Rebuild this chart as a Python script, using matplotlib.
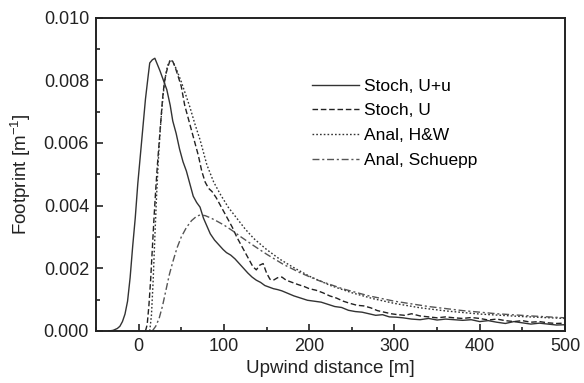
import numpy as np
import matplotlib.pyplot as plt
from matplotlib.ticker import MultipleLocator, FormatStrFormatter

plt.rcParams['font.family'] = ['Liberation Sans', 'DejaVu Sans']
plt.rcParams['mathtext.fontset'] = 'custom'
plt.rcParams['mathtext.rm'] = 'Liberation Sans'
plt.rcParams['mathtext.default'] = 'rm'

# Stoch, U+u (solid)
x_uu = [-35, -30, -25, -22, -19, -16, -13, -10, -7, -4, -1, 2, 5, 8, 11, 13, 16, 19, 22, 25,
        29, 33, 37, 40, 44, 48, 52, 56, 60, 64, 68, 72, 76, 80, 84, 89, 94, 99, 103, 108,
        113, 118, 123, 128, 133, 138, 143, 148, 153, 158, 163, 168, 175, 182, 190, 198, 206, 214, 222, 230,
        238, 246, 254, 262, 270, 278, 286, 294, 302, 310, 320, 330, 340, 350, 360, 370, 380, 390, 400, 410,
        420, 430, 440, 450, 460, 470, 480, 490, 500]
y_uu = [0.0, 0.02, 0.08, 0.15, 0.3, 0.54, 0.95, 1.7, 2.7, 3.6, 4.7, 5.6, 6.5, 7.4, 8.1, 8.55, 8.65, 8.7, 8.5, 8.3,
        8.0, 7.7, 7.2, 6.7, 6.3, 5.8, 5.4, 5.1, 4.7, 4.3, 4.1, 3.95, 3.6, 3.35, 3.1, 2.9, 2.75, 2.6, 2.5, 2.42,
        2.3, 2.15, 2.0, 1.85, 1.72, 1.62, 1.55, 1.45, 1.4, 1.35, 1.32, 1.28, 1.2, 1.12, 1.05, 0.98, 0.95, 0.92, 0.85, 0.78,
        0.75, 0.66, 0.62, 0.6, 0.55, 0.5, 0.52, 0.45, 0.44, 0.42, 0.38, 0.36, 0.40, 0.35, 0.38, 0.36, 0.34, 0.36, 0.30, 0.33,
        0.28, 0.24, 0.30, 0.26, 0.22, 0.25, 0.22, 0.19, 0.20]

# Stoch, U (dashed)
x_u = [8, 10, 12, 14, 16, 18, 20, 22, 24, 26, 28, 30, 32, 34, 37, 40, 43, 46, 50, 54,
       58, 62, 66, 70, 74, 78, 82, 86, 91, 96, 100, 105, 110, 115, 120, 125, 130, 134, 138, 142,
       146, 150, 154, 158, 163, 168, 173, 180, 187, 194, 200, 208, 216, 224, 232, 240, 248, 256, 264, 272,
       280, 288, 296, 304, 312, 320, 330, 340, 350, 360, 370, 380, 390, 400, 410, 420, 430, 440, 450, 460,
       470, 480, 490, 500]
y_u = [0.0, 0.2, 0.8, 1.6, 2.6, 3.6, 4.5, 5.3, 6.0, 6.7, 7.4, 7.9, 8.2, 8.4, 8.65, 8.6, 8.4, 8.15, 7.8, 7.2,
       6.8, 6.4, 6.0, 5.6, 5.1, 4.75, 4.55, 4.45, 4.25, 4.0, 3.8, 3.55, 3.3, 3.0, 2.75, 2.5, 2.25, 2.05, 1.95, 2.1,
       2.15, 1.85, 1.65, 1.62, 1.70, 1.72, 1.62, 1.55, 1.48, 1.42, 1.35, 1.3, 1.22, 1.12, 1.05, 0.95, 0.88, 0.82, 0.80, 0.74,
       0.65, 0.60, 0.55, 0.52, 0.50, 0.55, 0.48, 0.45, 0.42, 0.45, 0.42, 0.40, 0.43, 0.40, 0.35, 0.38, 0.33, 0.30, 0.33, 0.28,
       0.30, 0.26, 0.24, 0.25]

# Anal, H&W (dotted)
x_hw = [13, 15, 17, 19, 21, 23, 25, 27, 29, 31, 33, 35, 38, 41, 45, 50, 55, 60, 66, 72,
        80, 88, 96, 105, 115, 125, 135, 150, 165, 180, 200, 225, 250, 275, 300, 330, 360, 400, 450, 500]
y_hw = [0.0, 0.5, 1.6, 3.0, 4.3, 5.4, 6.3, 7.0, 7.6, 8.05, 8.35, 8.55, 8.65, 8.55, 8.3, 7.95, 7.55, 7.15, 6.6, 6.1,
        5.3, 4.75, 4.35, 3.95, 3.6, 3.25, 2.95, 2.6, 2.3, 2.05, 1.75, 1.45, 1.22, 1.03, 0.88, 0.74, 0.64, 0.54, 0.46, 0.40]

# Anal, Schuepp (dash-dot)
x_sc = [16, 20, 24, 28, 32, 36, 40, 45, 50, 56, 62, 68, 72, 78, 85, 92, 100, 110, 120, 135,
        150, 170, 190, 210, 240, 270, 300, 340, 380, 420, 460, 500]
y_sc = [0.0, 0.15, 0.4, 0.8, 1.3, 1.8, 2.2, 2.65, 3.0, 3.3, 3.52, 3.66, 3.7, 3.68, 3.6, 3.5, 3.38, 3.2, 3.0, 2.72,
        2.45, 2.12, 1.85, 1.62, 1.34, 1.12, 0.95, 0.78, 0.65, 0.55, 0.48, 0.42]

fig = plt.figure(figsize=(5.84, 3.83), dpi=100)
ax = fig.add_axes([0.1644, 0.1358, 0.8031, 0.8185])

ax.plot(x_uu, np.array(y_uu) * 1e-3, color='#333333', lw=1.0, ls='-', label='Stoch, U+u')
ax.plot(x_u, np.array(y_u) * 1e-3, color='#222222', lw=1.0, ls=(0, (4, 2)), label='Stoch, U')
ax.plot(x_hw, np.array(y_hw) * 1e-3, color='#333333', lw=1.0, ls=(0, (1.2, 1.5)), label='Anal, H&W')
ax.plot(x_sc, np.array(y_sc) * 1e-3, color='#555555', lw=1.0, ls=(0, (5, 2, 1.5, 2)), label='Anal, Schuepp')

ax.set_xlim(-50, 500)
ax.set_ylim(0, 0.010)
ax.xaxis.set_major_locator(MultipleLocator(100))
ax.xaxis.set_minor_locator(MultipleLocator(50))
ax.yaxis.set_major_locator(MultipleLocator(0.002))
ax.yaxis.set_minor_locator(MultipleLocator(0.001))
ax.yaxis.set_major_formatter(FormatStrFormatter('%.3f'))
ax.tick_params(which='both', direction='in', top=False, right=False, labelsize=13, colors='#222222', width=1.2)
ax.tick_params(which='major', length=5, pad=5)
ax.tick_params(which='minor', length=3)
for s in ax.spines.values():
    s.set_linewidth(1.4)
    s.set_color('#222222')

ax.set_xlabel('Upwind distance [m]', fontsize=13.5, color='#222222', labelpad=4)
ax.set_ylabel('Footprint [m$^{-1}$]', fontsize=13.5, color='#222222', labelpad=8)

ax.legend(loc='upper left', bbox_to_anchor=(0.46, 0.805), frameon=False, fontsize=12.5,
          handlelength=2.7, handletextpad=0.3, labelspacing=0.55, borderpad=0, borderaxespad=0)

fig.savefig('out.png', dpi=100)
